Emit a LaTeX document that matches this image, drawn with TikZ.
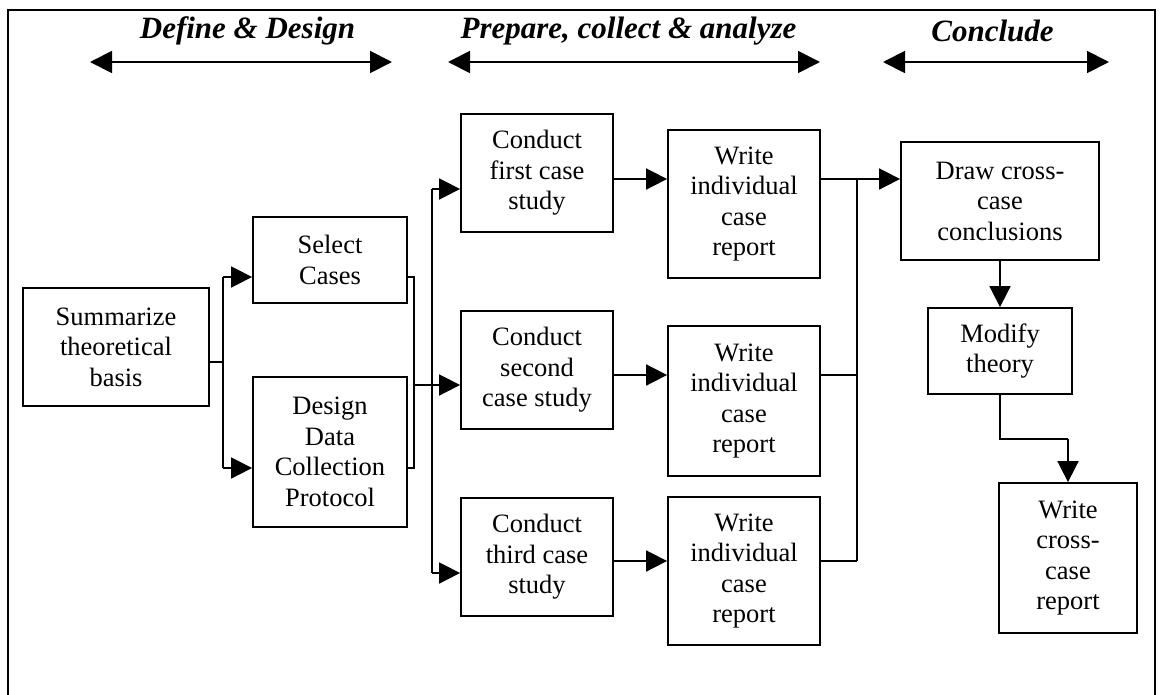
\documentclass[tikz,border=0pt]{standalone}
\usepackage{fontspec}
\setmainfont{Liberation Serif}
\usetikzlibrary{arrows.meta}
\begin{document}
\begin{tikzpicture}[x=1pt,y=-1pt,
  procbox/.style={draw,line width=1.8pt,align=center,inner sep=0pt,
    font=\fontsize{26.5}{30.5}\selectfont},
  conn/.style={line width=1.7pt},
  arr/.style={line width=1.7pt,-{Triangle[length=21pt,width=21pt]}},
  phasearr/.style={line width=1.9pt,{Triangle[length=22pt,width=22pt]}-{Triangle[length=22pt,width=22pt]}},
  phase/.style={font=\fontsize{31}{34}\selectfont\bfseries\itshape,inner sep=0pt}]
\useasboundingbox (0,0) rectangle (1160,694);
% frame
\coordinate (fbl) at (8,700);
\coordinate (ftl) at (8,10);
\coordinate (ftr) at (1155,10);
\coordinate (fbr) at (1155,700);
\draw[line width=1.8pt] (fbl) -- (ftl) -- (ftr) -- (fbr);
% phases
\node[phase] (p1) at (247.5,31) {Define \& Design};
\node[phase] (p2) at (628.5,31) {Prepare, collect \& analyze};
\node[phase] (p3) at (992.5,31) {Conclude};
\coordinate (a1l) at (90,62);  \coordinate (a1r) at (392,62);
\coordinate (a2l) at (448,62); \coordinate (a2r) at (820,62);
\coordinate (a3l) at (883,62); \coordinate (a3r) at (1109,62);
\draw[phasearr] (a1l) -- (a1r);
\draw[phasearr] (a2l) -- (a2r);
\draw[phasearr] (a3l) -- (a3r);
% boxes
\node[procbox,minimum width=186pt,minimum height=118pt] (sum) at (116,347) {Summarize\\theoretical\\basis};
\node[procbox,minimum width=154pt,minimum height=86pt] (sel) at (330,260) {Select\\Cases};
\node[procbox,minimum width=154pt,minimum height=150pt] (des) at (330,452) {Design\\Data\\Collection\\Protocol};
\node[procbox,minimum width=152pt,minimum height=118pt] (c1) at (537,173) {Conduct\\first case\\study};
\node[procbox,minimum width=152pt,minimum height=118pt] (c2) at (537,370) {Conduct\\second\\case study};
\node[procbox,minimum width=152pt,minimum height=118pt] (c3) at (537,557) {Conduct\\third case\\study};
\node[procbox,minimum width=152pt,minimum height=148pt] (w1) at (744,204) {Write\\individual\\case\\report};
\node[procbox,minimum width=152pt,minimum height=150pt] (w2) at (744,401) {Write\\individual\\case\\report};
\node[procbox,minimum width=152pt,minimum height=148pt] (w3) at (744,571) {Write\\individual\\case\\report};
\node[procbox,minimum width=198pt,minimum height=118pt] (dr) at (1000,201) {Draw cross-\\case\\conclusions};
\node[procbox,minimum width=144pt,minimum height=86pt] (mod) at (1000,351) {Modify\\theory};
\node[procbox,minimum width=138pt,minimum height=150pt] (wx) at (1068,558) {Write\\cross-\\case\\report};
% junction coordinates
\coordinate (j1) at (223,362);
\coordinate (j1t) at (223,277);
\coordinate (j1b) at (223,468);
\coordinate (j2t) at (414,277);
\coordinate (j2b) at (414,468);
\coordinate (j2m) at (414,385);
\coordinate (j3t) at (432,189);
\coordinate (j3b) at (432,573);
\coordinate (j4t) at (857,179);
\coordinate (j4m) at (857,375);
\coordinate (j4b) at (857,561);
\coordinate (j5a) at (1000,439);
\coordinate (j5b) at (1068,439);
% connectors
\draw[conn] (sum.east |- j1) -- (j1);
\draw[conn] (j1t) -- (j1b);
\draw[arr] (j1t) -- (sel.west |- j1t);
\draw[arr] (j1b) -- (des.west |- j1b);
\draw[conn] (sel.east |- j2t) -- (j2t) -- (j2b) -- (des.east |- j2b);
\draw[arr] (j2m) -- (c2.west |- j2m);
\draw[conn] (j3t) -- (j3b);
\draw[arr] (j3t) -- (c1.west |- j3t);
\draw[arr] (j3b) -- (c3.west |- j3b);
\draw[arr] (c1.east |- j4t) -- (w1.west |- j4t);
\draw[arr] (c2.east |- j4m) -- (w2.west |- j4m);
\draw[arr] (c3.east |- j4b) -- (w3.west |- j4b);
\draw[conn] (w1.east |- j4t) -- (j4t);
\draw[conn] (w2.east |- j4m) -- (j4m);
\draw[conn] (w3.east |- j4b) -- (j4b);
\draw[conn] (j4t) -- (j4b);
\draw[arr] (j4t) -- (dr.west |- j4t);
\draw[arr] (dr.south) -- (mod.north);
\draw[conn] (mod.south) -- (j5a) -- (j5b);
\draw[arr] (j5b) -- (wx.north);
\end{tikzpicture}
\end{document}
